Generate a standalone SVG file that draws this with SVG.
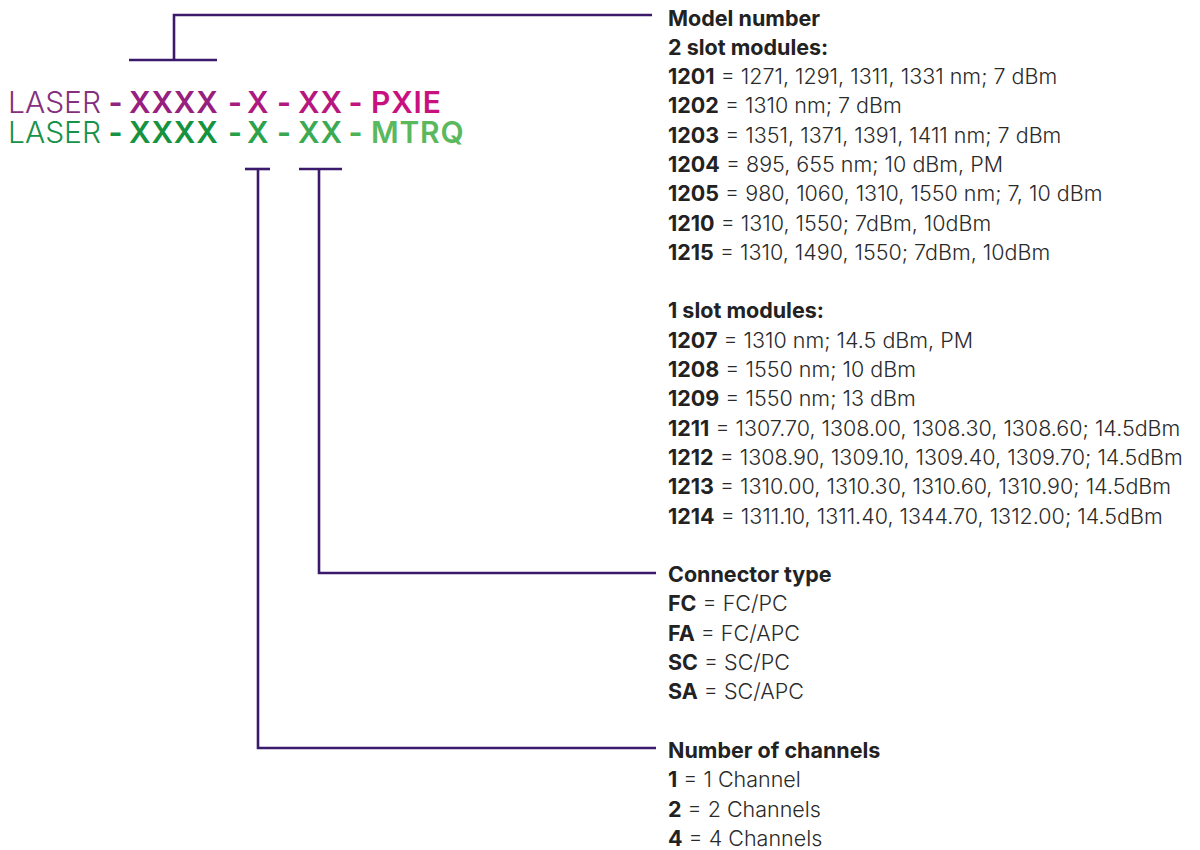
<svg xmlns="http://www.w3.org/2000/svg" width="1200" height="850" viewBox="0 0 1200 850">
<style>
.ln{fill:none;stroke:#3b1a6b;stroke-width:2.6}
.t{font-family:Inter,"Liberation Sans",sans-serif;font-size:21.5px;fill:#2a2a2a;font-weight:300}
.b{font-weight:700;fill:#222}
.code{font-family:Inter,"Liberation Sans",sans-serif;font-size:30px}
.lt{font-weight:300}
.bd{font-weight:600;letter-spacing:0.8px}
.dash{font-weight:700;text-anchor:middle}
</style>
<rect width="1200" height="850" fill="#fff"/>
<g id="connectors">
<polyline class="ln" points="652,15 174,15 174,60"/>
<line class="ln" x1="129" y1="60" x2="217" y2="60"/>
<line class="ln" x1="245" y1="169" x2="270" y2="169"/>
<polyline class="ln" points="258,169 258,748 656,748"/>
<line class="ln" x1="299" y1="169" x2="342" y2="169"/>
<polyline class="ln" points="319,169 319,573 656,573"/>
</g>
<g id="code-pxie" class="code">
<text x="8" y="113" class="lt" fill="#84307f">LASER</text>
<text x="115.5" y="113" class="dash" fill="#8e247f">-</text>
<text x="129" y="113" class="bd" fill="#97207f">XXXX</text>
<text x="235" y="113" class="dash" fill="#a61b80">-</text>
<text x="247" y="113" class="bd" fill="#ad1980">X</text>
<text x="284" y="113" class="dash" fill="#b2187f">-</text>
<text x="298" y="113" class="bd" fill="#b8167f">XX</text>
<text x="355.5" y="113" class="dash" fill="#c0147f">-</text>
<text x="371" y="113" class="bd" fill="#c8117f">PXIE</text>
</g>
<g id="code-mtrq" class="code">
<text x="8" y="143" class="lt" fill="#16924a">LASER</text>
<text x="115.5" y="143" class="dash" fill="#169444">-</text>
<text x="129" y="143" class="bd" fill="#159340">XXXX</text>
<text x="235" y="143" class="dash" fill="#25a048">-</text>
<text x="247" y="143" class="bd" fill="#2ba24b">X</text>
<text x="284" y="143" class="dash" fill="#38a750">-</text>
<text x="298" y="143" class="bd" fill="#3caa52">XX</text>
<text x="355.5" y="143" class="dash" fill="#4db258">-</text>
<text x="371" y="143" class="bd" fill="#5ab85e">MTRQ</text>
</g>
<g id="model-number" class="t">
<text x="668" y="26" class="b">Model number</text>
<text x="668" y="55" class="b">2 slot modules:</text>
<text x="668" y="84"><tspan class="b">1201</tspan> = 1271, 1291, 1311, 1331 nm; 7 dBm</text>
<text x="668" y="113.3"><tspan class="b">1202</tspan> = 1310 nm; 7 dBm</text>
<text x="668" y="142.6"><tspan class="b">1203</tspan> = 1351, 1371, 1391, 1411 nm; 7 dBm</text>
<text x="668" y="171.9"><tspan class="b">1204</tspan> = 895, 655 nm; 10 dBm, PM</text>
<text x="668" y="201.2"><tspan class="b">1205</tspan> = 980, 1060, 1310, 1550 nm; 7, 10 dBm</text>
<text x="668" y="230.5"><tspan class="b">1210</tspan> = 1310, 1550; 7dBm, 10dBm</text>
<text x="668" y="259.8"><tspan class="b">1215</tspan> = 1310, 1490, 1550; 7dBm, 10dBm</text>
<text x="668" y="318.4" class="b">1 slot modules:</text>
<text x="668" y="347.7"><tspan class="b">1207</tspan> = 1310 nm; 14.5 dBm, PM</text>
<text x="668" y="377"><tspan class="b">1208</tspan> = 1550 nm; 10 dBm</text>
<text x="668" y="406.3"><tspan class="b">1209</tspan> = 1550 nm; 13 dBm</text>
<text x="668" y="435.6"><tspan class="b">1211</tspan> = 1307.70, 1308.00, 1308.30, 1308.60; 14.5dBm</text>
<text x="668" y="464.9"><tspan class="b">1212</tspan> = 1308.90, 1309.10, 1309.40, 1309.70; 14.5dBm</text>
<text x="668" y="494.2"><tspan class="b">1213</tspan> = 1310.00, 1310.30, 1310.60, 1310.90; 14.5dBm</text>
<text x="668" y="523.5"><tspan class="b">1214</tspan> = 1311.10, 1311.40, 1344.70, 1312.00; 14.5dBm</text>
</g>
<g id="connector-type" class="t">
<text x="668" y="582.1" class="b">Connector type</text>
<text x="668" y="611.4"><tspan class="b">FC</tspan> = FC/PC</text>
<text x="668" y="640.7"><tspan class="b">FA</tspan> = FC/APC</text>
<text x="668" y="670"><tspan class="b">SC</tspan> = SC/PC</text>
<text x="668" y="699.3"><tspan class="b">SA</tspan> = SC/APC</text>
</g>
<g id="channels" class="t">
<text x="668" y="757.9" class="b">Number of channels</text>
<text x="668" y="787.2"><tspan class="b">1</tspan> = 1 Channel</text>
<text x="668" y="816.5"><tspan class="b">2</tspan> = 2 Channels</text>
<text x="668" y="845.8"><tspan class="b">4</tspan> = 4 Channels</text>
</g>
</svg>
